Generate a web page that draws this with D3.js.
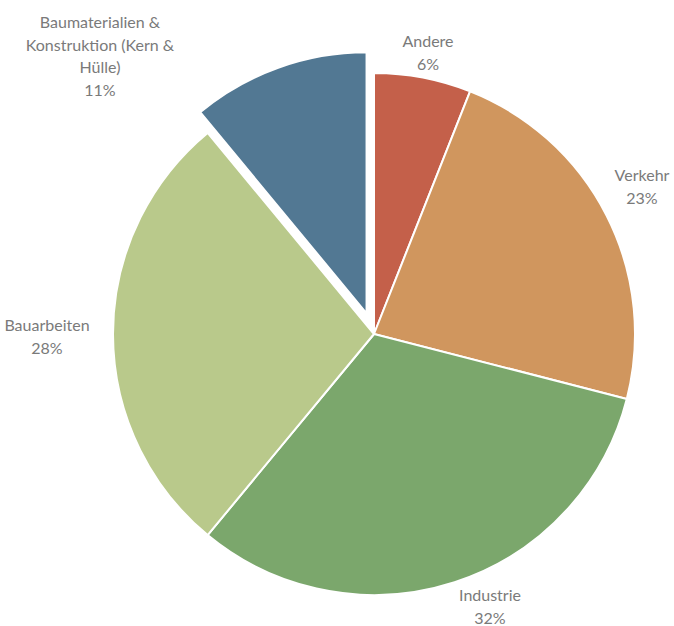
<!DOCTYPE html>
<html lang="de">
<head>
<meta charset="utf-8">
<title>Pie</title>
<script src="https://cdn.jsdelivr.net/npm/d3@7/dist/d3.min.js"></script>
<style>
  body { margin: 0; background: #fff; }
  text { font-family: Lato, "Open Sans", sans-serif; font-size: 16px; fill: #7a7a7a; }
</style>
</head>
<body>
<script>
// data, clockwise from 12 o'clock
var categories = ["Andere", "Verkehr", "Industrie", "Bauarbeiten", "Baumaterialien & Konstruktion (Kern & Hülle)"];
var values = [6, 23, 32, 28, 11];
var labelLines = [
  ["Andere"],
  ["Verkehr"],
  ["Industrie"],
  ["Bauarbeiten"],
  ["Baumaterialien &", "Konstruktion (Kern &", "Hülle)"]
];
var colors = ["#c4604a", "#d0965e", "#7ba76c", "#b9c98b", "#527893"];
var exploded = [0, 0, 0, 0, 1];

var w = 674, h = 626;
var cx = 374, cy = 334, r = 261;

// where Excel put the labels (centre of the text block, first line baseline)
var labelPos = [[428, 47], [642, 181], [490, 601], [47, 331], [100, 28]];
var lineH = 22.5;

var svg = d3.select("body").append("svg")
  .attr("width", w).attr("height", h);

var pie = d3.pie().sort(null).value(function(d) { return d; });
var arc = d3.arc().innerRadius(0).outerRadius(r);
var arcs = pie(values);

var g = svg.append("g").attr("transform", "translate(" + cx + "," + cy + ")");

g.selectAll("path")
  .data(arcs)
  .enter()
  .append("path")
  .attr("d", arc)
  .attr("fill", function(d, i) { return colors[i]; })
  .attr("stroke", "#fff")
  .attr("stroke-width", 2)
  .attr("stroke-linejoin", "round")
  .attr("transform", function(d, i) {
    if (!exploded[i]) return null;
    var a = (d.startAngle + d.endAngle) / 2;
    var off = 22;
    return "translate(" + (Math.sin(a) * off) + "," + (-Math.cos(a) * off) + ")";
  });

// labels
arcs.forEach(function(d, i) {
  var t = svg.append("text")
    .attr("text-anchor", "middle")
    .attr("x", labelPos[i][0])
    .attr("y", labelPos[i][1]);
  var lines = labelLines[i].concat([values[i] + "%"]);
  lines.forEach(function(l, j) {
    t.append("tspan")
      .attr("x", labelPos[i][0])
      .attr("dy", j == 0 ? 0 : lineH)
      .text(l);
  });
});
</script>
</body>
</html>
